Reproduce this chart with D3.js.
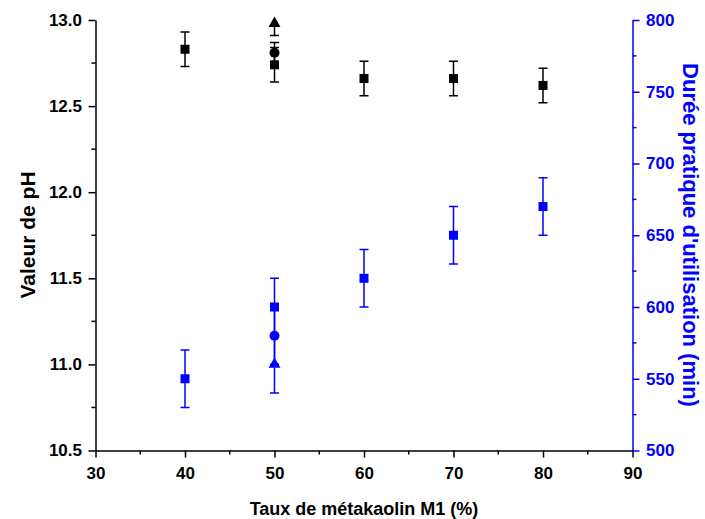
<!DOCTYPE html>
<html>
<head>
<meta charset="utf-8">
<script src="https://cdn.jsdelivr.net/npm/d3@7"></script>
<style>
  html, body { margin: 0; padding: 0; background: #fff; }
  svg { display: block; font-family: "Liberation Sans", Arial, sans-serif; font-weight: bold; }
</style>
</head>
<body>
<svg id="chart" width="705" height="519"></svg>
<script>
// ---- Data ----
const xTicks = [30, 40, 50, 60, 70, 80, 90];
const phTicks = [10.5, 11.0, 11.5, 12.0, 12.5, 13.0];
const timeTicks = [500, 550, 600, 650, 700, 750, 800];

// pH (left axis), black
const phSquareX = [40, 50, 60, 70, 80];
const phSquareY = [12.83, 12.74, 12.66, 12.66, 12.62];
const phSquareErr = [0.1, 0.1, 0.1, 0.1, 0.1];
const phCircleX = [50];
const phCircleY = [12.81];
const phCircleErr = [0.06];
const phTriangleX = [50];
const phTriangleY = [12.98];
const phTriangleErr = [0.07];

// Durée pratique d'utilisation (right axis), blue
const tSquareX = [40, 50, 60, 70, 80];
const tSquareY = [550, 600, 620, 650, 670];
const tSquareErr = [20, 20, 20, 20, 20];
const tCircleX = [50];
const tCircleY = [580];
const tCircleErr = [20];
const tTriangleX = [50];
const tTriangleY = [560];
const tTriangleErr = [20];

// ---- Layout ----
const L = 95.5, R = 632.5, T = 20, B = 450.5;
const BLUE = "#0000ff";
const svg = d3.select("#chart");

const x = d3.scaleLinear().domain([30, 90]).range([L, R]);
const yL = d3.scaleLinear().domain([10.5, 13.0]).range([B, T]);
const yR = d3.scaleLinear().domain([500, 800]).range([B, T]);

svg.append("defs").append("clipPath").attr("id", "plotclip")
  .append("rect").attr("x", L).attr("y", T).attr("width", R - L).attr("height", B - T);

function styleAxis(g, color) {
  g.selectAll("path.domain").attr("stroke", color).attr("stroke-width", 1.5);
  g.selectAll(".tick line").attr("stroke", color).attr("stroke-width", 1.5);
  g.selectAll(".tick text").attr("fill", color)
    .style("font-size", "17px").style("font-weight", "bold")
    .style("font-family", '"Liberation Sans", Arial, sans-serif');
}
function minorTicks(g, values, scale, orient, len, color) {
  values.forEach(v => {
    const p = scale(v);
    let ln;
    if (orient === "bottom") ln = g.append("line").attr("x1", p).attr("x2", p).attr("y1", 0).attr("y2", len);
    if (orient === "left") ln = g.append("line").attr("y1", p).attr("y2", p).attr("x1", 0).attr("x2", -len);
    if (orient === "right") ln = g.append("line").attr("y1", p).attr("y2", p).attr("x1", 0).attr("x2", len);
    ln.attr("stroke", color).attr("stroke-width", 1.5);
  });
}

// X axis
const gx = svg.append("g").attr("transform", `translate(0,${B})`)
  .call(d3.axisBottom(x).tickValues(xTicks).tickFormat(d3.format("d")).tickSizeInner(7).tickSizeOuter(0).tickPadding(9.5));
styleAxis(gx, "#000");
minorTicks(gx, [35, 45, 55, 65, 75, 85], x, "bottom", 4, "#000");

// Left axis
const gl = svg.append("g").attr("transform", `translate(${L},0)`)
  .call(d3.axisLeft(yL).tickValues(phTicks).tickFormat(d3.format(".1f")).tickSizeInner(7).tickSizeOuter(0).tickPadding(6.5));
styleAxis(gl, "#000");
minorTicks(gl, [10.75, 11.25, 11.75, 12.25, 12.75], yL, "left", 4, "#000");

// Right axis
const gr = svg.append("g").attr("transform", `translate(${R},0)`)
  .call(d3.axisRight(yR).tickValues(timeTicks).tickFormat(d3.format("d")).tickSizeInner(7).tickSizeOuter(0).tickPadding(6.5));
styleAxis(gr, BLUE);
minorTicks(gr, [525, 575, 625, 675, 725, 775], yR, "right", 4, BLUE);

// Error bars
const errG = svg.append("g").attr("clip-path", "url(#plotclip)");
function errorBars(xs, ys, es, yScale, color) {
  xs.forEach((xv, i) => {
    const cx = x(xv), y1 = yScale(ys[i] + es[i]), y2 = yScale(ys[i] - es[i]);
    errG.append("line").attr("x1", cx).attr("x2", cx).attr("y1", y1).attr("y2", y2)
      .attr("stroke", color).attr("stroke-width", 1.5);
    [y1, y2].forEach(yy => errG.append("line").attr("x1", cx - 4.5).attr("x2", cx + 4.5)
      .attr("y1", yy).attr("y2", yy).attr("stroke", color).attr("stroke-width", 1.5));
  });
}
errorBars(phSquareX, phSquareY, phSquareErr, yL, "#000");
errorBars(phCircleX, phCircleY, phCircleErr, yL, "#000");
errorBars(phTriangleX, phTriangleY, phTriangleErr, yL, "#000");
errorBars(tSquareX, tSquareY, tSquareErr, yR, BLUE);
errorBars(tCircleX, tCircleY, tCircleErr, yR, BLUE);
errorBars(tTriangleX, tTriangleY, tTriangleErr, yR, BLUE);

// Markers
const mk = svg.append("g");
function markers(xs, ys, yScale, shape, color) {
  const sym = shape === "square" ? d3.symbolSquare : shape === "circle" ? d3.symbolCircle : d3.symbolTriangle;
  const size = shape === "square" ? 81 : shape === "circle" ? 80 : 62;
  mk.selectAll(null).data(xs).enter().append("path")
    .attr("d", d3.symbol().type(sym).size(size))
    .attr("transform", (d, i) => `translate(${x(d)},${yScale(ys[i])})`)
    .attr("fill", color);
}
markers(tSquareX, tSquareY, yR, "square", BLUE);
markers(tCircleX, tCircleY, yR, "circle", BLUE);
markers(tTriangleX, tTriangleY, yR, "triangle", BLUE);
markers(phSquareX, phSquareY, yL, "square", "#000");
markers(phCircleX, phCircleY, yL, "circle", "#000");
markers(phTriangleX, phTriangleY, yL, "triangle", "#000");

// Titles
svg.append("text").attr("x", (L + R) / 2).attr("y", 515).attr("text-anchor", "middle")
  .style("font-size", "18px").attr("fill", "#000").text("Taux de métakaolin M1 (%)");
svg.append("text").attr("transform", "translate(35,235) rotate(-90)").attr("text-anchor", "middle")
  .style("font-size", "21px").attr("fill", "#000").text("Valeur de pH");
svg.append("text").attr("transform", "translate(683,235) rotate(90)").attr("text-anchor", "middle")
  .style("font-size", "22px").attr("fill", BLUE).text("Durée pratique d'utilisation (min)");
</script>
</body>
</html>
